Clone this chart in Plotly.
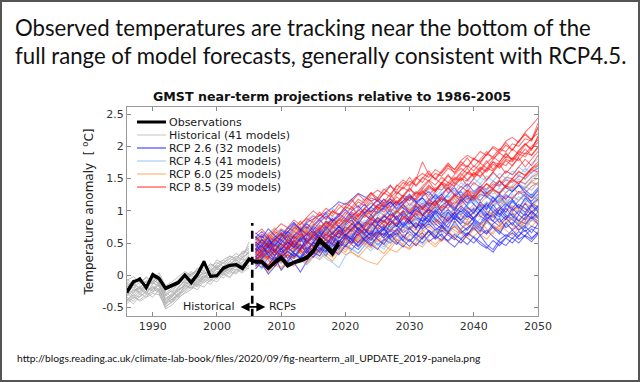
import plotly.graph_objects as go

# ---------------- data ----------------
obs_years = list(range(1986, 2020))
obs_a = [-0.24, -0.09, -0.07, -0.18, 0.02, -0.04, -0.19, -0.15, -0.10, 0.01,
         -0.10, 0.03, 0.22, -0.02, -0.01, 0.12, 0.16, 0.17, 0.12, 0.26,
         0.22, 0.22, 0.12, 0.21, 0.29, 0.17, 0.21, 0.25, 0.29, 0.39,
         0.57, 0.47, 0.37, 0.52]
obs_b = [-0.27, -0.11, -0.05, -0.20, 0.00, -0.06, -0.21, -0.17, -0.12, 0.00,
         -0.12, 0.01, 0.20, -0.01, 0.00, 0.10, 0.15, 0.16, 0.10, 0.24,
         0.20, 0.20, 0.10, 0.19, 0.26, 0.14, 0.19, 0.22, 0.26, 0.36,
         0.52, 0.43, 0.32, 0.48]

hist_years = list(range(1986, 2006))
historical = [
    [-0.30, -0.22, -0.26, -0.14, -0.10, -0.18, -0.36, -0.30, -0.20, -0.08, -0.04, -0.10, 0.02, 0.08, 0.00, 0.10, 0.16, 0.12, 0.22, 0.28],
    [-0.20, -0.28, -0.16, -0.22, -0.08, -0.12, -0.42, -0.34, -0.22, -0.16, -0.06, 0.02, -0.04, 0.08, 0.14, 0.06, 0.18, 0.24, 0.16, 0.30],
    [-0.38, -0.30, -0.34, -0.24, -0.18, -0.26, -0.50, -0.40, -0.28, -0.20, -0.14, -0.06, -0.12, 0.00, 0.06, 0.02, 0.12, 0.08, 0.18, 0.14],
    [-0.10, -0.16, -0.04, -0.12, 0.00, -0.06, -0.28, -0.20, -0.10, -0.02, 0.06, 0.00, 0.12, 0.06, 0.18, 0.24, 0.16, 0.28, 0.34, 0.40],
    [-0.26, -0.18, -0.30, -0.20, -0.24, -0.14, -0.30, -0.38, -0.26, -0.14, -0.20, -0.08, 0.00, -0.06, 0.04, 0.12, 0.06, 0.20, 0.14, 0.24],
    [-0.44, -0.34, -0.38, -0.30, -0.26, -0.20, -0.46, -0.36, -0.32, -0.22, -0.16, -0.10, -0.02, -0.08, 0.04, 0.00, 0.08, 0.14, 0.10, 0.20],
    [-0.16, -0.08, -0.14, -0.02, -0.10, 0.00, -0.20, -0.26, -0.12, -0.06, 0.02, 0.08, 0.02, 0.14, 0.20, 0.14, 0.26, 0.22, 0.32, 0.46],
    [-0.34, -0.40, -0.28, -0.34, -0.20, -0.28, -0.52, -0.46, -0.36, -0.26, -0.18, -0.22, -0.08, -0.14, -0.02, 0.04, -0.02, 0.10, 0.06, 0.16],
    [-0.06, -0.14, -0.20, -0.08, -0.14, -0.04, -0.24, -0.16, -0.06, 0.04, -0.02, 0.10, 0.16, 0.10, 0.24, 0.18, 0.30, 0.24, 0.38, 0.34],
    [-0.24, -0.32, -0.20, -0.28, -0.16, -0.22, -0.38, -0.28, -0.18, -0.10, -0.16, -0.04, 0.04, 0.00, 0.10, 0.04, 0.14, 0.22, 0.28, 0.36],
    [-0.40, -0.26, -0.20, -0.30, -0.12, -0.16, -0.34, -0.42, -0.30, -0.18, -0.10, -0.16, -0.02, 0.04, -0.04, 0.08, 0.02, 0.16, 0.26, 0.20],
    [-0.12, -0.20, -0.10, -0.18, -0.06, -0.14, -0.32, -0.22, -0.14, -0.04, 0.04, -0.04, 0.08, 0.18, 0.10, 0.20, 0.26, 0.34, 0.28, 0.52],
    [-0.28, -0.36, -0.24, -0.16, -0.26, -0.12, -0.40, -0.32, -0.24, -0.12, -0.08, -0.14, -0.02, 0.06, 0.12, 0.04, 0.10, 0.20, 0.14, 0.26],
    [-0.18, -0.10, -0.22, -0.14, -0.04, -0.10, -0.26, -0.34, -0.18, -0.08, 0.00, -0.06, 0.06, 0.00, 0.12, 0.20, 0.12, 0.18, 0.28, 0.34],
    [-0.36, -0.44, -0.32, -0.26, -0.34, -0.22, -0.44, -0.38, -0.30, -0.24, -0.12, -0.18, -0.06, -0.10, 0.02, -0.04, 0.06, 0.02, 0.14, 0.10],
    [-0.08, -0.02, -0.10, -0.04, -0.12, 0.04, -0.16, -0.10, -0.02, 0.06, 0.00, 0.12, 0.06, 0.18, 0.12, 0.24, 0.30, 0.26, 0.36, 0.42],
    [-0.22, -0.14, -0.28, -0.18, -0.22, -0.10, -0.30, -0.24, -0.34, -0.14, -0.10, -0.02, -0.08, 0.04, 0.10, 0.08, 0.22, 0.16, 0.20, 0.32],
    [-0.32, -0.24, -0.18, -0.26, -0.18, -0.24, -0.44, -0.30, -0.22, -0.16, -0.20, -0.12, -0.04, 0.02, -0.06, 0.06, 0.10, 0.04, 0.16, 0.22],
    [-0.14, -0.24, -0.18, -0.10, -0.02, -0.08, -0.22, -0.18, -0.08, -0.12, 0.02, 0.06, 0.14, 0.08, 0.16, 0.10, 0.22, 0.30, 0.24, 0.38],
    [-0.42, -0.32, -0.40, -0.34, -0.28, -0.30, -0.48, -0.42, -0.34, -0.28, -0.22, -0.14, -0.18, -0.06, -0.10, 0.02, -0.04, 0.08, 0.04, 0.12],
]

rcp_years = list(range(2006, 2051))
rcp26 = [
    [0.45, 0.52, 0.48, 0.60, 0.66, 0.62, 0.74, 0.70, 0.82, 0.88, 0.93, 0.98, 1.05, 1.14, 1.10, 1.18, 1.27, 1.22, 1.15, 1.20, 1.12, 1.18, 1.08, 1.15, 1.22, 1.14, 1.20, 1.10, 1.26, 1.18, 1.12, 1.22, 1.30, 1.18, 1.24, 1.16, 1.28, 1.20, 1.14, 1.25, 1.18, 1.30, 1.22, 1.15, 1.26],
    [0.20, 0.12, 0.28, 0.18, 0.30, 0.22, 0.35, 0.26, 0.40, 0.32, 0.44, 0.38, 0.50, 0.42, 0.55, 0.48, 0.40, 0.52, 0.60, 0.47, 0.56, 0.50, 0.62, 0.54, 0.45, 0.58, 0.66, 0.52, 0.60, 0.70, 0.62, 0.55, 0.68, 0.58, 0.50, 0.62, 0.48, 0.40, 0.55, 0.63, 0.57, 0.68, 0.60, 0.52, 0.64],
    [0.38, 0.45, 0.32, 0.50, 0.42, 0.55, 0.48, 0.60, 0.52, 0.45, 0.62, 0.70, 0.58, 0.66, 0.75, 0.68, 0.80, 0.72, 0.64, 0.78, 0.86, 0.74, 0.82, 0.92, 0.80, 0.88, 0.78, 0.95, 0.85, 0.76, 0.90, 0.98, 0.86, 0.94, 1.04, 0.92, 0.85, 0.98, 1.06, 0.94, 0.88, 1.00, 0.92, 1.08, 0.98],
    [0.30, 0.18, 0.02, 0.14, 0.25, 0.32, 0.20, 0.05, 0.22, 0.35, 0.42, 0.30, 0.48, 0.40, 0.55, 0.62, 0.50, 0.58, 0.70, 0.64, 0.76, 0.68, 0.82, 0.74, 0.86, 0.95, 0.84, 0.92, 1.02, 0.90, 0.98, 0.88, 0.80, 0.92, 0.86, 0.78, 0.90, 0.84, 0.76, 0.88, 0.96, 0.85, 0.80, 0.92, 0.84],
    [0.55, 0.62, 0.48, 0.58, 0.70, 0.64, 0.56, 0.68, 0.76, 0.66, 0.72, 0.84, 0.78, 0.70, 0.82, 0.90, 0.80, 0.94, 0.86, 0.98, 1.05, 0.92, 1.00, 1.10, 0.96, 1.02, 1.12, 1.04, 0.94, 1.08, 1.16, 1.06, 0.98, 1.10, 1.20, 1.08, 1.02, 1.14, 1.24, 1.10, 1.04, 1.16, 1.26, 1.12, 1.06],
    [0.25, 0.35, 0.28, 0.40, 0.30, 0.36, 0.44, 0.34, 0.28, 0.40, 0.48, 0.38, 0.45, 0.55, 0.46, 0.40, 0.52, 0.60, 0.50, 0.58, 0.66, 0.56, 0.48, 0.60, 0.68, 0.58, 0.50, 0.62, 0.70, 0.60, 0.54, 0.64, 0.56, 0.48, 0.60, 0.52, 0.45, 0.36, 0.50, 0.58, 0.66, 0.56, 0.62, 0.72, 0.64],
    [0.42, 0.30, 0.40, 0.52, 0.36, 0.44, 0.54, 0.42, 0.50, 0.60, 0.52, 0.46, 0.58, 0.66, 0.56, 0.62, 0.74, 0.64, 0.56, 0.70, 0.78, 0.70, 0.62, 0.76, 0.84, 0.74, 0.82, 0.92, 0.80, 0.72, 0.86, 0.96, 0.84, 0.78, 0.90, 1.00, 0.88, 0.94, 0.82, 0.92, 0.86, 0.78, 0.90, 0.98, 0.88],
    [0.50, 0.40, 0.54, 0.46, 0.58, 0.68, 0.60, 0.52, 0.64, 0.74, 0.66, 0.78, 0.88, 0.76, 0.84, 0.94, 0.86, 0.98, 1.06, 0.96, 1.04, 1.14, 1.02, 1.10, 1.20, 1.12, 1.22, 1.30, 1.18, 1.26, 1.36, 1.24, 1.32, 1.42, 1.30, 1.38, 1.28, 1.34, 1.46, 1.36, 1.30, 1.40, 1.32, 1.24, 1.36],
    [0.34, 0.26, 0.38, 0.30, 0.44, 0.36, 0.30, 0.42, 0.48, 0.38, 0.54, 0.46, 0.40, 0.52, 0.62, 0.54, 0.64, 0.72, 0.60, 0.68, 0.58, 0.70, 0.78, 0.66, 0.74, 0.82, 0.72, 0.80, 0.70, 0.78, 0.68, 0.76, 0.66, 0.74, 0.82, 0.72, 0.64, 0.76, 0.68, 0.60, 0.70, 0.78, 0.68, 0.76, 0.72],
    [0.60, 0.50, 0.44, 0.56, 0.48, 0.40, 0.52, 0.62, 0.54, 0.60, 0.70, 0.62, 0.74, 0.66, 0.60, 0.72, 0.82, 0.76, 0.88, 0.80, 0.92, 0.84, 0.76, 0.88, 0.98, 0.90, 0.84, 0.96, 1.06, 0.94, 1.02, 0.92, 1.00, 0.90, 0.98, 1.08, 0.96, 0.90, 1.02, 1.12, 1.00, 1.10, 1.04, 0.94, 1.06],
    [0.10, 0.22, 0.16, 0.30, 0.08, 0.20, 0.34, 0.28, 0.44, 0.36, 0.30, 0.46, 0.58, 0.50, 0.44, 0.60, 0.70, 0.62, 0.54, 0.66, 0.74, 0.60, 0.70, 0.82, 0.72, 0.64, 0.76, 0.86, 0.74, 0.68, 0.80, 0.90, 0.78, 0.70, 0.84, 0.76, 0.66, 0.80, 0.88, 0.74, 0.82, 0.70, 0.78, 0.90, 0.80],
    [0.66, 0.58, 0.72, 0.62, 0.54, 0.68, 0.80, 0.72, 0.64, 0.78, 0.88, 0.96, 0.84, 0.92, 1.02, 0.92, 1.00, 1.10, 0.98, 1.08, 1.18, 1.06, 1.14, 1.04, 0.96, 1.10, 1.20, 1.08, 1.16, 1.26, 1.12, 1.02, 1.14, 1.24, 1.10, 1.00, 1.12, 1.04, 0.94, 1.08, 1.18, 1.06, 0.98, 1.10, 1.02],
    [0.28, 0.40, 0.50, 0.36, 0.26, 0.38, 0.28, 0.42, 0.54, 0.46, 0.36, 0.50, 0.60, 0.52, 0.64, 0.56, 0.46, 0.58, 0.66, 0.56, 0.48, 0.62, 0.72, 0.60, 0.52, 0.64, 0.56, 0.70, 0.62, 0.54, 0.66, 0.58, 0.50, 0.64, 0.74, 0.62, 0.70, 0.60, 0.52, 0.46, 0.58, 0.50, 0.62, 0.56, 0.68],
    [0.48, 0.36, 0.46, 0.56, 0.64, 0.52, 0.42, 0.56, 0.64, 0.54, 0.68, 0.58, 0.66, 0.76, 0.68, 0.80, 0.72, 0.64, 0.78, 0.90, 0.82, 0.96, 0.86, 0.78, 0.92, 1.02, 0.94, 0.86, 1.00, 0.92, 0.84, 0.96, 1.08, 0.98, 0.88, 1.00, 1.10, 0.98, 0.90, 1.04, 0.92, 0.84, 0.96, 0.88, 0.98],
    [0.16, 0.26, 0.36, 0.24, 0.34, 0.44, 0.34, 0.26, 0.38, 0.28, 0.40, 0.50, 0.40, 0.32, 0.46, 0.54, 0.44, 0.56, 0.48, 0.40, 0.54, 0.64, 0.52, 0.44, 0.56, 0.46, 0.58, 0.68, 0.56, 0.64, 0.52, 0.44, 0.56, 0.66, 0.58, 0.48, 0.42, 0.54, 0.46, 0.58, 0.50, 0.62, 0.70, 0.58, 0.66],
    [0.58, 0.68, 0.56, 0.46, 0.60, 0.72, 0.82, 0.70, 0.80, 0.70, 0.82, 0.92, 0.84, 0.96, 0.88, 1.00, 1.08, 0.96, 1.06, 1.16, 1.06, 1.14, 1.04, 1.16, 1.26, 1.14, 1.04, 1.16, 1.24, 1.14, 1.26, 1.36, 1.22, 1.12, 1.24, 1.34, 1.22, 1.14, 1.26, 1.18, 1.30, 1.40, 1.28, 1.20, 1.32],
    [0.36, 0.48, 0.30, 0.22, 0.40, 0.52, 0.44, 0.58, 0.40, 0.50, 0.66, 0.54, 0.48, 0.70, 0.62, 0.56, 0.74, 0.66, 0.82, 0.70, 0.62, 0.80, 0.92, 0.76, 0.86, 0.72, 0.90, 0.82, 0.98, 0.84, 0.74, 0.92, 0.86, 1.00, 0.88, 0.80, 0.96, 0.84, 1.02, 0.90, 0.78, 0.94, 0.86, 1.00, 0.90],
    [0.52, 0.44, 0.60, 0.38, 0.54, 0.46, 0.62, 0.70, 0.50, 0.64, 0.56, 0.76, 0.64, 0.58, 0.78, 0.86, 0.70, 0.80, 0.94, 0.82, 0.90, 1.02, 0.86, 0.98, 0.88, 1.08, 0.94, 1.04, 1.16, 0.98, 1.10, 1.00, 1.18, 1.06, 0.96, 1.14, 1.04, 1.22, 1.08, 0.98, 1.16, 1.04, 1.20, 1.10, 1.18],
    [0.24, 0.32, 0.44, 0.30, 0.42, 0.26, 0.38, 0.48, 0.34, 0.52, 0.42, 0.36, 0.56, 0.44, 0.60, 0.50, 0.68, 0.54, 0.46, 0.62, 0.72, 0.58, 0.66, 0.54, 0.74, 0.62, 0.80, 0.68, 0.58, 0.76, 0.66, 0.84, 0.70, 0.62, 0.78, 0.68, 0.86, 0.74, 0.64, 0.82, 0.70, 0.60, 0.76, 0.66, 0.80],
    [0.40, 0.56, 0.46, 0.36, 0.50, 0.62, 0.48, 0.40, 0.60, 0.70, 0.56, 0.48, 0.64, 0.76, 0.62, 0.72, 0.84, 0.70, 0.62, 0.80, 0.70, 0.88, 0.76, 0.96, 0.84, 0.74, 0.92, 1.02, 0.88, 0.80, 0.98, 0.86, 1.04, 0.94, 0.84, 1.02, 0.92, 1.10, 0.96, 0.86, 1.04, 0.94, 1.12, 0.98, 1.08],
]
rcp45 = [
    [0.40, 0.48, 0.36, 0.50, 0.44, 0.56, 0.48, 0.60, 0.54, 0.66, 0.60, 0.72, 0.64, 0.76, 0.70, 0.80, 0.74, 0.86, 0.78, 0.90, 0.84, 0.96, 0.88, 1.00, 0.94, 1.04, 0.98, 1.10, 1.02, 1.14, 1.08, 1.18, 1.12, 1.24, 1.16, 1.26, 1.20, 1.32, 1.26, 1.36, 1.30, 1.40, 1.34, 1.46, 1.40],
    [0.20, 0.10, 0.22, 0.14, 0.26, 0.18, 0.30, 0.24, 0.16, 0.28, 0.36, 0.26, 0.20, 0.12, 0.30, 0.40, 0.34, 0.46, 0.38, 0.50, 0.44, 0.56, 0.50, 0.62, 0.54, 0.66, 0.58, 0.70, 0.64, 0.76, 0.70, 0.80, 0.72, 0.84, 0.78, 0.88, 0.82, 0.94, 0.86, 0.98, 0.92, 1.02, 0.96, 1.08, 1.00],
    [0.50, 0.58, 0.66, 0.56, 0.70, 0.62, 0.76, 0.68, 0.80, 0.74, 0.86, 0.78, 0.92, 0.84, 0.98, 1.06, 0.96, 1.04, 1.12, 1.02, 1.10, 1.20, 1.12, 1.24, 1.16, 1.28, 1.22, 1.34, 1.26, 1.38, 1.32, 1.44, 1.36, 1.48, 1.40, 1.52, 1.46, 1.58, 1.50, 1.62, 1.56, 1.68, 1.60, 1.74, 1.80],
    [0.30, 0.38, 0.28, 0.40, 0.34, 0.44, 0.36, 0.48, 0.40, 0.52, 0.46, 0.56, 0.50, 0.62, 0.54, 0.64, 0.58, 0.70, 0.62, 0.74, 0.68, 0.80, 0.72, 0.84, 0.78, 0.88, 0.80, 0.92, 0.86, 0.98, 0.90, 1.02, 0.94, 1.06, 1.00, 1.10, 1.02, 1.14, 1.08, 1.18, 1.12, 1.22, 1.16, 1.26, 1.20],
    [0.60, 0.52, 0.64, 0.72, 0.62, 0.74, 0.82, 0.72, 0.86, 0.94, 0.84, 0.96, 1.04, 0.94, 1.08, 1.16, 1.06, 1.20, 1.28, 1.18, 1.32, 1.40, 1.28, 1.22, 1.34, 1.26, 1.36, 1.28, 1.20, 1.32, 1.40, 1.30, 1.44, 1.36, 1.50, 1.42, 1.54, 1.46, 1.58, 1.50, 1.62, 1.54, 1.66, 1.58, 1.70],
    [0.35, 0.44, 0.52, 0.42, 0.50, 0.58, 0.50, 0.44, 0.56, 0.62, 0.54, 0.66, 0.60, 0.52, 0.64, 0.72, 0.66, 0.58, 0.70, 0.80, 0.72, 0.84, 0.76, 0.70, 0.82, 0.90, 0.84, 0.78, 0.90, 0.98, 0.92, 0.86, 0.98, 1.06, 0.96, 1.04, 0.94, 1.08, 1.16, 1.06, 1.14, 1.04, 1.18, 1.26, 1.16],
    [0.45, 0.36, 0.46, 0.54, 0.46, 0.38, 0.50, 0.58, 0.66, 0.56, 0.64, 0.74, 0.66, 0.58, 0.70, 0.78, 0.88, 0.80, 0.72, 0.84, 0.94, 0.86, 0.98, 0.90, 0.84, 0.96, 1.04, 0.98, 1.10, 1.02, 1.12, 1.04, 1.16, 1.24, 1.14, 1.22, 1.30, 1.20, 1.14, 1.28, 1.36, 1.26, 1.38, 1.32, 1.44],
    [0.26, 0.16, 0.30, 0.22, 0.34, 0.44, 0.34, 0.28, 0.40, 0.50, 0.42, 0.34, 0.48, 0.58, 0.50, 0.62, 0.54, 0.66, 0.76, 0.66, 0.58, 0.72, 0.82, 0.74, 0.86, 0.78, 0.70, 0.84, 0.94, 0.86, 0.98, 0.90, 0.82, 0.96, 1.06, 0.96, 1.08, 1.00, 0.92, 1.06, 1.14, 1.04, 1.16, 1.10, 1.22],
    [0.56, 0.46, 0.38, 0.50, 0.60, 0.52, 0.64, 0.56, 0.48, 0.62, 0.72, 0.64, 0.78, 0.70, 0.82, 0.92, 0.84, 0.76, 0.90, 1.00, 0.92, 1.04, 0.96, 1.10, 1.02, 0.94, 1.08, 1.18, 1.10, 1.22, 1.14, 1.06, 1.20, 1.30, 1.20, 1.32, 1.24, 1.16, 1.30, 1.40, 1.32, 1.42, 1.34, 1.48, 1.56],
    [0.14, 0.24, 0.34, 0.26, 0.18, 0.32, 0.40, 0.30, 0.42, 0.34, 0.26, 0.38, 0.46, 0.36, 0.48, 0.42, 0.34, 0.46, 0.56, 0.48, 0.40, 0.54, 0.62, 0.52, 0.64, 0.56, 0.48, 0.60, 0.70, 0.62, 0.74, 0.66, 0.58, 0.72, 0.80, 0.70, 0.82, 0.74, 0.66, 0.78, 0.88, 0.80, 0.72, 0.86, 0.94],
    [0.44, 0.56, 0.46, 0.58, 0.68, 0.58, 0.50, 0.62, 0.72, 0.62, 0.76, 0.68, 0.80, 0.90, 0.80, 0.72, 0.86, 0.96, 0.88, 0.98, 1.08, 0.98, 0.90, 1.02, 1.12, 1.04, 1.16, 1.08, 1.00, 1.14, 1.24, 1.14, 1.26, 1.18, 1.10, 1.24, 1.34, 1.26, 1.36, 1.28, 1.40, 1.50, 1.40, 1.54, 1.62],
    [0.32, 0.22, 0.40, 0.30, 0.46, 0.36, 0.28, 0.46, 0.38, 0.56, 0.46, 0.40, 0.58, 0.68, 0.54, 0.64, 0.74, 0.60, 0.70, 0.82, 0.70, 0.78, 0.90, 0.80, 0.72, 0.88, 1.00, 0.86, 0.96, 1.06, 0.94, 1.04, 0.92, 1.08, 1.18, 1.04, 1.14, 1.02, 1.20, 1.10, 1.26, 1.16, 1.30, 1.22, 1.34],
    [0.48, 0.40, 0.58, 0.50, 0.42, 0.60, 0.68, 0.56, 0.66, 0.76, 0.64, 0.74, 0.84, 0.72, 0.86, 0.94, 0.82, 0.96, 1.06, 0.92, 1.02, 1.12, 1.00, 1.14, 1.04, 1.18, 1.10, 1.24, 1.14, 1.28, 1.20, 1.32, 1.24, 1.36, 1.28, 1.42, 1.32, 1.46, 1.38, 1.50, 1.44, 1.56, 1.48, 1.60, 1.66],
]
rcp60 = [
    [0.25, 0.15, 0.05, 0.18, 0.10, 0.22, 0.14, 0.26, 0.20, 0.30, 0.24, 0.34, 0.28, 0.40, 0.32, 0.36, 0.30, 0.24, 0.20, 0.17, 0.30, 0.40, 0.36, 0.46, 0.42, 0.50, 0.44, 0.56, 0.48, 0.58, 0.52, 0.62, 0.56, 0.66, 0.60, 0.70, 0.64, 0.74, 0.68, 0.78, 0.72, 0.82, 0.76, 0.86, 0.80],
    [0.40, 0.32, 0.44, 0.36, 0.46, 0.40, 0.50, 0.44, 0.38, 0.48, 0.56, 0.50, 0.60, 0.54, 0.46, 0.58, 0.64, 0.56, 0.68, 0.62, 0.72, 0.66, 0.60, 0.70, 0.76, 0.70, 0.80, 0.74, 0.86, 0.78, 0.88, 0.82, 0.92, 0.86, 0.96, 0.90, 1.00, 0.94, 1.04, 0.98, 1.08, 1.02, 1.12, 1.06, 1.16],
    [0.50, 0.60, 0.54, 0.66, 0.58, 0.68, 0.76, 0.66, 0.72, 0.80, 0.74, 0.84, 0.78, 0.88, 0.82, 0.92, 0.86, 0.96, 0.90, 1.00, 0.94, 1.04, 0.98, 1.08, 1.02, 1.10, 1.04, 1.14, 1.08, 1.18, 1.12, 1.22, 1.16, 1.26, 1.20, 1.30, 1.24, 1.34, 1.28, 1.38, 1.32, 1.42, 1.36, 1.46, 1.50],
    [0.20, 0.28, 0.36, 0.26, 0.34, 0.28, 0.38, 0.46, 0.36, 0.44, 0.50, 0.42, 0.52, 0.46, 0.40, 0.50, 0.56, 0.48, 0.58, 0.52, 0.62, 0.56, 0.66, 0.60, 0.54, 0.64, 0.70, 0.62, 0.72, 0.66, 0.76, 0.70, 0.64, 0.74, 0.80, 0.74, 0.84, 0.78, 0.72, 0.82, 0.88, 0.80, 0.90, 0.84, 0.94],
    [0.30, 0.22, 0.14, 0.26, 0.20, 0.32, 0.26, 0.38, 0.30, 0.40, 0.34, 0.44, 0.38, 0.48, 0.56, 0.48, 0.58, 0.52, 0.62, 0.70, 0.62, 0.72, 0.66, 0.76, 0.70, 0.80, 0.74, 0.84, 0.78, 0.88, 0.82, 0.92, 0.86, 0.80, 0.90, 0.96, 0.90, 1.00, 0.94, 1.04, 0.98, 1.08, 1.02, 1.12, 1.06],
    [0.55, 0.46, 0.58, 0.50, 0.42, 0.54, 0.62, 0.54, 0.64, 0.58, 0.68, 0.60, 0.70, 0.64, 0.74, 0.68, 0.78, 0.70, 0.80, 0.74, 0.84, 0.78, 0.88, 0.80, 0.90, 0.84, 0.94, 0.88, 0.98, 0.92, 1.02, 0.96, 1.06, 1.00, 1.10, 1.04, 1.14, 1.08, 1.18, 1.12, 1.22, 1.16, 1.26, 1.20, 1.30],
    [0.35, 0.42, 0.30, 0.40, 0.48, 0.38, 0.30, 0.42, 0.52, 0.44, 0.36, 0.48, 0.56, 0.46, 0.54, 0.62, 0.52, 0.46, 0.58, 0.66, 0.58, 0.50, 0.62, 0.70, 0.64, 0.56, 0.68, 0.76, 0.66, 0.74, 0.68, 0.60, 0.72, 0.80, 0.70, 0.78, 0.86, 0.76, 0.70, 0.82, 0.90, 0.80, 0.88, 0.98, 0.92],
    [0.10, 0.20, 0.30, 0.22, 0.12, 0.24, 0.34, 0.26, 0.18, 0.30, 0.40, 0.30, 0.22, 0.36, 0.46, 0.36, 0.28, 0.40, 0.50, 0.42, 0.34, 0.46, 0.56, 0.46, 0.40, 0.52, 0.62, 0.52, 0.44, 0.56, 0.66, 0.58, 0.50, 0.62, 0.72, 0.64, 0.56, 0.68, 0.78, 0.70, 0.62, 0.74, 0.84, 0.76, 0.86],
    [0.62, 0.52, 0.64, 0.74, 0.62, 0.54, 0.66, 0.76, 0.66, 0.58, 0.70, 0.80, 0.70, 0.62, 0.74, 0.84, 0.74, 0.66, 0.78, 0.88, 0.78, 0.70, 0.82, 0.92, 0.84, 0.76, 0.88, 0.98, 0.88, 0.80, 0.94, 1.04, 0.94, 0.86, 1.00, 1.10, 1.00, 0.92, 1.06, 1.16, 1.06, 0.98, 1.12, 1.22, 1.18],
    [0.32, 0.24, 0.36, 0.28, 0.20, 0.34, 0.44, 0.34, 0.46, 0.38, 0.30, 0.44, 0.54, 0.44, 0.36, 0.50, 0.60, 0.50, 0.42, 0.56, 0.48, 0.40, 0.54, 0.64, 0.54, 0.46, 0.60, 0.70, 0.60, 0.52, 0.66, 0.76, 0.66, 0.58, 0.72, 0.82, 0.72, 0.64, 0.78, 0.88, 0.78, 0.70, 0.84, 0.94, 0.88],
    [0.28, 0.38, 0.24, 0.34, 0.44, 0.30, 0.40, 0.50, 0.36, 0.28, 0.42, 0.52, 0.40, 0.34, 0.48, 0.58, 0.46, 0.54, 0.44, 0.60, 0.50, 0.64, 0.56, 0.48, 0.62, 0.72, 0.60, 0.68, 0.58, 0.74, 0.64, 0.78, 0.70, 0.84, 0.74, 0.66, 0.82, 0.92, 0.80, 0.88, 0.98, 0.86, 0.96, 1.04, 1.00],
    [0.45, 0.56, 0.48, 0.40, 0.54, 0.64, 0.52, 0.60, 0.70, 0.58, 0.66, 0.56, 0.72, 0.82, 0.68, 0.78, 0.88, 0.76, 0.86, 0.96, 0.82, 0.92, 1.02, 0.88, 0.98, 1.08, 0.94, 1.04, 1.14, 1.00, 1.10, 1.20, 1.06, 1.16, 1.26, 1.12, 1.22, 1.32, 1.18, 1.28, 1.38, 1.26, 1.36, 1.44, 1.40],
]
rcp85 = [
    [0.50, 0.60, 0.52, 0.64, 0.72, 0.66, 0.78, 0.70, 0.84, 0.92, 0.86, 0.98, 0.92, 1.04, 1.12, 1.06, 1.18, 1.12, 1.24, 1.32, 1.26, 1.38, 1.32, 1.44, 1.38, 1.50, 1.58, 1.52, 1.64, 1.58, 1.70, 1.64, 1.78, 1.86, 1.80, 1.92, 1.86, 2.00, 1.94, 2.08, 2.14, 2.06, 2.22, 2.32, 2.44],
    [0.40, 0.48, 0.58, 0.50, 0.62, 0.56, 0.68, 0.62, 0.74, 0.66, 0.78, 0.72, 0.84, 0.92, 0.86, 0.98, 0.92, 1.04, 1.12, 1.06, 1.18, 1.12, 1.26, 1.36, 1.30, 1.48, 1.76, 1.56, 1.50, 1.42, 1.54, 1.48, 1.60, 1.70, 1.62, 1.74, 1.66, 1.80, 1.90, 1.82, 1.96, 1.88, 2.02, 2.12, 2.20],
    [0.30, 0.22, 0.34, 0.42, 0.36, 0.46, 0.40, 0.52, 0.58, 0.50, 0.62, 0.56, 0.68, 0.62, 0.74, 0.70, 0.80, 0.74, 0.86, 0.80, 0.92, 0.86, 0.98, 1.06, 0.98, 1.08, 1.02, 1.14, 1.08, 1.20, 1.16, 1.26, 1.20, 1.32, 1.28, 1.38, 1.34, 1.46, 1.40, 1.52, 1.50, 1.60, 1.56, 1.66, 1.72],
    [0.60, 0.52, 0.44, 0.56, 0.64, 0.58, 0.50, 0.62, 0.70, 0.64, 0.76, 0.70, 0.82, 0.76, 0.88, 0.84, 0.96, 0.90, 1.02, 0.96, 1.08, 1.04, 1.16, 1.10, 1.22, 1.18, 1.30, 1.24, 1.36, 1.32, 1.44, 1.38, 1.50, 1.46, 1.58, 1.54, 1.66, 1.62, 1.74, 1.70, 1.82, 1.78, 1.90, 1.86, 1.98],
    [0.20, 0.30, 0.24, 0.14, 0.28, 0.36, 0.30, 0.40, 0.34, 0.44, 0.38, 0.48, 0.44, 0.54, 0.50, 0.58, 0.52, 0.62, 0.58, 0.66, 0.62, 0.72, 0.68, 0.76, 0.72, 0.80, 0.76, 0.86, 0.82, 0.92, 0.88, 0.98, 0.94, 1.04, 1.00, 1.10, 1.06, 1.16, 1.12, 1.22, 1.20, 1.30, 1.28, 1.38, 1.44],
    [0.45, 0.38, 0.50, 0.44, 0.56, 0.48, 0.60, 0.54, 0.66, 0.60, 0.72, 0.66, 0.78, 0.86, 0.80, 0.92, 0.86, 0.98, 0.94, 1.06, 1.02, 1.14, 1.10, 1.20, 1.16, 1.28, 1.24, 1.36, 1.30, 1.42, 1.38, 1.50, 1.46, 1.58, 1.54, 1.66, 1.60, 1.72, 1.68, 1.80, 1.76, 1.88, 1.84, 1.96, 2.06],
    [0.35, 0.44, 0.36, 0.46, 0.40, 0.50, 0.44, 0.56, 0.50, 0.58, 0.54, 0.64, 0.58, 0.70, 0.66, 0.76, 0.72, 0.82, 0.78, 0.88, 0.84, 0.94, 0.90, 1.00, 0.96, 1.06, 1.02, 1.12, 1.08, 1.18, 1.14, 1.24, 1.20, 1.30, 1.26, 1.36, 1.32, 1.42, 1.38, 1.48, 1.44, 1.54, 1.50, 1.60, 1.66],
    [0.55, 0.64, 0.56, 0.68, 0.62, 0.74, 0.68, 0.80, 0.88, 0.82, 0.94, 0.88, 1.00, 0.94, 1.06, 1.02, 1.14, 1.08, 1.20, 1.16, 1.28, 1.22, 1.40, 1.34, 1.46, 1.40, 1.52, 1.46, 1.58, 1.54, 1.66, 1.60, 1.72, 1.68, 1.80, 1.76, 1.88, 1.84, 1.96, 1.92, 2.04, 2.00, 2.12, 2.08, 2.28],
    [0.25, 0.34, 0.28, 0.38, 0.32, 0.42, 0.36, 0.46, 0.40, 0.50, 0.46, 0.56, 0.50, 0.60, 0.56, 0.66, 0.62, 0.72, 0.68, 0.78, 0.74, 0.84, 0.80, 0.90, 0.86, 0.96, 0.92, 1.02, 0.98, 1.08, 1.04, 1.14, 1.10, 1.20, 1.16, 1.26, 1.22, 1.32, 1.28, 1.38, 1.36, 1.46, 1.42, 1.52, 1.58],
    [0.48, 0.40, 0.52, 0.60, 0.54, 0.64, 0.58, 0.70, 0.64, 0.76, 0.70, 0.82, 0.76, 0.88, 0.84, 0.96, 0.90, 1.02, 0.98, 1.10, 1.06, 1.18, 1.12, 1.24, 1.20, 1.30, 1.26, 1.38, 1.32, 1.44, 1.40, 1.52, 1.48, 1.60, 1.56, 1.68, 1.62, 1.76, 1.72, 1.84, 1.80, 1.92, 1.88, 2.00, 2.10],
    [0.64, 0.72, 0.60, 0.70, 0.80, 0.74, 0.86, 0.78, 0.90, 1.00, 0.92, 1.04, 0.96, 1.10, 1.02, 1.14, 1.26, 1.16, 1.28, 1.20, 1.34, 1.26, 1.38, 1.48, 1.40, 1.52, 1.44, 1.58, 1.50, 1.62, 1.74, 1.64, 1.76, 1.68, 1.82, 1.74, 1.88, 1.98, 1.90, 2.02, 1.94, 2.08, 2.18, 2.10, 2.30],
    [0.14, 0.24, 0.16, 0.28, 0.22, 0.32, 0.26, 0.38, 0.30, 0.42, 0.52, 0.44, 0.36, 0.48, 0.58, 0.50, 0.62, 0.56, 0.68, 0.60, 0.72, 0.84, 0.76, 0.88, 0.80, 0.92, 1.04, 0.96, 1.08, 1.00, 1.12, 1.24, 1.14, 1.26, 1.18, 1.30, 1.42, 1.34, 1.46, 1.38, 1.50, 1.62, 1.54, 1.66, 1.76],
    [0.42, 0.34, 0.46, 0.56, 0.48, 0.40, 0.52, 0.64, 0.56, 0.68, 0.60, 0.72, 0.84, 0.74, 0.86, 0.80, 0.92, 1.04, 0.94, 1.06, 0.98, 1.10, 1.22, 1.12, 1.24, 1.16, 1.28, 1.40, 1.30, 1.42, 1.34, 1.46, 1.58, 1.48, 1.60, 1.52, 1.64, 1.76, 1.66, 1.78, 1.70, 1.84, 1.96, 1.86, 2.00],
    [0.28, 0.38, 0.48, 0.40, 0.30, 0.44, 0.54, 0.46, 0.38, 0.52, 0.62, 0.54, 0.66, 0.58, 0.70, 0.80, 0.70, 0.62, 0.76, 0.86, 0.78, 0.90, 1.00, 0.92, 0.84, 0.98, 1.08, 1.00, 1.12, 1.22, 1.12, 1.04, 1.18, 1.28, 1.20, 1.32, 1.42, 1.34, 1.26, 1.40, 1.50, 1.42, 1.54, 1.64, 1.70],
    [0.52, 0.44, 0.36, 0.48, 0.40, 0.52, 0.46, 0.58, 0.68, 0.60, 0.72, 0.82, 0.74, 0.86, 0.98, 0.90, 1.02, 0.94, 1.06, 1.18, 1.08, 1.20, 1.30, 1.22, 1.34, 1.26, 1.38, 1.48, 1.40, 1.52, 1.44, 1.56, 1.66, 1.58, 1.70, 1.62, 1.74, 1.84, 1.76, 1.88, 1.80, 1.94, 2.04, 1.96, 2.14],
    [0.36, 0.28, 0.40, 0.32, 0.44, 0.56, 0.46, 0.38, 0.50, 0.60, 0.50, 0.64, 0.56, 0.68, 0.62, 0.74, 0.66, 0.78, 0.90, 0.82, 0.94, 0.86, 0.98, 1.10, 1.00, 1.12, 1.06, 1.18, 1.10, 1.24, 1.36, 1.26, 1.38, 1.30, 1.44, 1.36, 1.48, 1.60, 1.50, 1.62, 1.56, 1.68, 1.80, 1.70, 1.86],
    [0.46, 0.56, 0.42, 0.54, 0.66, 0.52, 0.62, 0.74, 0.62, 0.76, 0.86, 0.74, 0.88, 0.80, 0.94, 1.06, 0.92, 1.04, 1.16, 1.02, 1.14, 1.26, 1.12, 1.24, 1.36, 1.22, 1.34, 1.46, 1.32, 1.44, 1.56, 1.42, 1.54, 1.66, 1.52, 1.64, 1.78, 1.64, 1.76, 1.90, 1.78, 1.92, 2.04, 1.94, 2.16],
    [0.32, 0.42, 0.52, 0.38, 0.50, 0.42, 0.56, 0.66, 0.52, 0.64, 0.74, 0.62, 0.76, 0.68, 0.80, 0.92, 0.80, 0.94, 0.86, 1.00, 1.12, 0.98, 1.10, 1.22, 1.08, 1.20, 1.32, 1.18, 1.30, 1.42, 1.28, 1.40, 1.52, 1.38, 1.50, 1.62, 1.48, 1.60, 1.72, 1.58, 1.70, 1.82, 1.68, 1.80, 1.92],
    [0.58, 0.48, 0.62, 0.52, 0.66, 0.58, 0.72, 0.84, 0.72, 0.86, 0.98, 0.86, 1.00, 0.92, 1.06, 1.18, 1.04, 1.16, 1.28, 1.14, 1.28, 1.40, 1.26, 1.38, 1.52, 1.38, 1.50, 1.62, 1.48, 1.60, 1.72, 1.58, 1.70, 1.82, 1.68, 1.80, 1.92, 1.80, 1.94, 2.06, 1.94, 2.08, 2.20, 2.10, 2.36],
    [0.22, 0.32, 0.26, 0.38, 0.28, 0.40, 0.50, 0.40, 0.52, 0.44, 0.56, 0.48, 0.60, 0.70, 0.58, 0.70, 0.62, 0.74, 0.84, 0.72, 0.84, 0.78, 0.90, 1.00, 0.88, 1.00, 0.94, 1.06, 1.16, 1.04, 1.16, 1.10, 1.22, 1.32, 1.20, 1.32, 1.26, 1.38, 1.48, 1.36, 1.48, 1.42, 1.54, 1.64, 1.60],
]

legend_labels = ["Observations", "Historical (41 models)", "RCP 2.6 (32 models)",
                 "RCP 4.5 (41 models)", "RCP 6.0 (25 models)", "RCP 8.5 (39 models)"]
x_ticks = [1990, 2000, 2010, 2020, 2030, 2040, 2050]
y_ticks = [-0.5, 0, 0.5, 1, 1.5, 2, 2.5]
y_tick_text = ["-0.5", "0", "0.5", "1", "1.5", "2", "2.5"]

# ---------------- styles ----------------
W, H = 640, 382
ML, MR, MT, MB = 127, 102, 107, 66
PW, PH = W - ML - MR, H - MT - MB
FONT = "DejaVu Sans"
C_HIST = "rgba(175,175,175,0.75)"
C26 = "rgba(20,20,255,0.6)"
C45 = "rgba(120,185,250,0.65)"
C60 = "rgba(255,135,50,0.62)"
C85 = "rgba(255,20,20,0.6)"
legend_colors = ["black", "rgb(215,215,215)", "rgb(110,110,255)", "rgb(185,215,250)",
                 "rgb(255,195,150)", "rgb(255,110,110)"]


def px(x):
    return (x - ML) / PW


def py(y):
    return 1 - (y - MT) / PH


fig = go.Figure()

for run in historical:
    fig.add_trace(go.Scatter(x=hist_years, y=run, mode="lines",
                             line=dict(color=C_HIST, width=1), showlegend=False,
                             hoverinfo="skip"))

groups = [(rcp26, C26), (rcp45, C45), (rcp60, C60), (rcp85, C85)]
nmax = max(len(g[0]) for g in groups)
for i in range(nmax):
    for runs, col in groups:
        if i < len(runs):
            fig.add_trace(go.Scatter(x=rcp_years, y=runs[i], mode="lines",
                                     line=dict(color=col, width=1.05), showlegend=False,
                                     hoverinfo="skip"))

for obs in (obs_b, obs_a):
    fig.add_trace(go.Scatter(x=obs_years, y=obs, mode="lines",
                             line=dict(color="black", width=2.6), showlegend=False))

shapes = []
annotations = []

# legend (manual, compact like the original)
leg_y = [122, 135, 148, 161, 174, 187]
for lab, col, yy in zip(legend_labels, legend_colors, leg_y):
    shapes.append(dict(type="line", xref="paper", yref="paper",
                       x0=px(137), x1=px(166), y0=py(yy), y1=py(yy),
                       line=dict(color=col, width=3 if lab == "Observations" else 1.5)))
    annotations.append(dict(xref="paper", yref="paper", x=px(167), y=py(yy),
                            text=lab, showarrow=False, xanchor="left", yanchor="middle",
                            font=dict(family=FONT, size=11, color="#1a1a1a")))

# divider between historical and scenario periods
shapes.append(dict(type="line", xref="x", yref="y", x0=2005.5, x1=2005.5,
                   y0=-0.64, y1=0.81, line=dict(color="black", width=2.6, dash="8px,5px")))

annotations.append(dict(xref="x", yref="y", x=2005.5 + 2.05, y=-0.49, ax=2005.5 - 2.05, ay=-0.49,
                        axref="x", ayref="y", text="", showarrow=True, arrowhead=2,
                        arrowside="end+start", arrowsize=1, arrowwidth=1.8, arrowcolor="black"))
annotations.append(dict(xref="x", yref="y", x=2003.2, y=-0.49, text="Historical",
                        showarrow=False, xanchor="right", yanchor="middle",
                        font=dict(family=FONT, size=11, color="#1a1a1a")))
annotations.append(dict(xref="x", yref="y", x=2007.8, y=-0.49, text="RCPs",
                        showarrow=False, xanchor="left", yanchor="middle",
                        font=dict(family=FONT, size=11, color="#1a1a1a")))

# chart title
annotations.append(dict(xref="paper", yref="paper", x=px(332), y=py(96),
                        text="<b>GMST near-term projections relative to 1986-2005</b>",
                        showarrow=False, xanchor="center", yanchor="middle",
                        font=dict(family=FONT, size=12.6, color="#111")))

# slide title & footer
annotations.append(dict(xref="paper", yref="paper", x=px(13), y=py(27),
                        text="Observed temperatures are tracking near the bottom of the",
                        showarrow=False, xanchor="left", yanchor="middle",
                        font=dict(family="Lato", size=22.2, color="#111")))
annotations.append(dict(xref="paper", yref="paper", x=px(13), y=py(56),
                        text="full range of model forecasts, generally consistent with RCP4.5.",
                        showarrow=False, xanchor="left", yanchor="middle",
                        font=dict(family="Lato", size=22.2, color="#111")))
annotations.append(dict(xref="paper", yref="paper", x=px(15), y=py(358),
                        text="http://blogs.reading.ac.uk/climate-lab-book/files/2020/09/fig-nearterm_all_UPDATE_2019-panela.png",
                        showarrow=False, xanchor="left", yanchor="middle",
                        font=dict(family="Lato", size=10.3, color="#111")))

# slide frame
shapes.append(dict(type="rect", xref="paper", yref="paper", x0=px(1), x1=px(639),
                   y0=py(1), y1=py(381), line=dict(color="#555", width=2), layer="above"))

fig.update_layout(
    width=W, height=H, margin=dict(l=ML, r=MR, t=MT, b=MB, autoexpand=False),
    paper_bgcolor="white", plot_bgcolor="white", showlegend=False,
    shapes=shapes, annotations=annotations,
    xaxis=dict(range=[1986, 2050], tickvals=x_ticks, ticks="inside", ticklen=4,
               tickcolor="#888", showline=True, linecolor="#999", linewidth=1,
               mirror="allticks", showgrid=False, zeroline=False,
               tickfont=dict(family=FONT, size=11, color="#333")),
    yaxis=dict(range=[-0.63, 2.61], tickvals=y_ticks, ticktext=y_tick_text,
               ticks="inside", ticklen=4, tickcolor="#888", showline=True,
               linecolor="#999", linewidth=1, mirror="allticks", showgrid=False,
               zeroline=False, tickfont=dict(family=FONT, size=11, color="#333"),
               title=dict(text="Temperature anomaly  [ <sup>o</sup>C]", standoff=6,
                          font=dict(family=FONT, size=12, color="#222"))),
)

fig.write_html("out.html", config={"displayModeBar": False},
               post_script="document.body.style.margin='0';document.body.style.overflow='hidden';")
